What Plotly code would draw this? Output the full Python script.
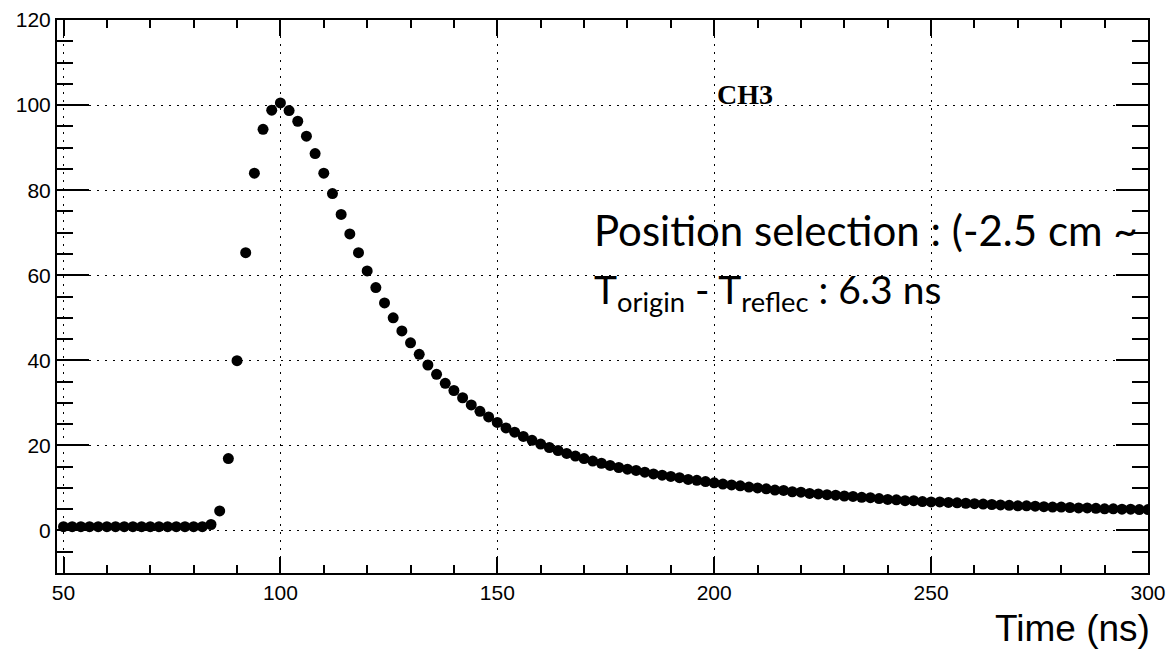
import plotly.graph_objects as go

# Sample times (ns), 2 ns steps
time_ns = list(range(50, 302, 2))

# Amplitude
amplitude = [
    0.9, 0.9, 0.9, 0.9, 0.9, 0.9, 0.9, 0.9, 0.9, 0.9, 0.9, 0.9, 0.9, 0.9, 0.9, 0.9, 0.9,  # 50-82
    1.4, 4.6, 16.9, 39.9, 65.3, 84.0, 94.3, 98.8, 100.5, 98.7,                            # 84-102
    96.2, 92.7, 88.6, 84.0, 79.2, 74.3, 69.7, 65.3, 61.0, 57.1,                           # 104-122
    53.5, 50.0, 46.9, 44.1, 41.4, 38.9, 36.7, 34.6, 32.9, 31.2,                           # 124-142
    29.5, 28.0, 26.7, 25.4, 24.1, 23.1, 22.1, 21.2, 20.3, 19.5,                           # 144-162
    18.8, 18.1, 17.5, 16.9, 16.3, 15.8, 15.3, 14.8, 14.4, 14.1,                           # 164-182
    13.7, 13.3, 13.0, 12.7, 12.4, 12.0, 11.8, 11.5, 11.2,                                 # 184-200
    10.9, 10.7, 10.5, 10.2, 10.0, 9.8, 9.5, 9.4, 9.1, 9.0,                                # 202-220
    8.7, 8.6, 8.4, 8.3, 8.1, 8.0, 7.8, 7.7, 7.5, 7.3,                                     # 222-240
    7.2, 7.0, 7.0, 6.8, 6.7,                                                              # 242-250
    6.7, 6.6, 6.5, 6.4, 6.3, 6.2, 6.1, 6.0, 5.9, 5.8,                                     # 252-270
    5.8, 5.7, 5.6, 5.5, 5.5, 5.4, 5.3, 5.3, 5.2, 5.1,                                     # 272-290
    5.1, 5.0, 5.0, 4.9, 4.9,                                                              # 292-300
]

x_ticks = [50, 100, 150, 200, 250, 300]
y_ticks = [0, 20, 40, 60, 80, 100, 120]

channel_label = "CH3"
x_title = "Time (ns)"
note_line1 = "Position selection : (-2.5 cm ~"
note_line2 = "T<sub>origin</sub> - T<sub>reflec</sub> : 6.3 ns"

fig = go.Figure()
fig.add_trace(go.Scatter(
    x=time_ns, y=amplitude, mode="markers",
    marker=dict(symbol="circle", size=11, color="black", line=dict(width=0)),
    showlegend=False, cliponaxis=True,
))

tick_font = dict(family="Liberation Sans, Arial, sans-serif", size=21, color="black")
grid_dash = "2px,6px"

fig.update_xaxes(
    range=[48.5, 300], tickvals=x_ticks, ticktext=[str(v) for v in x_ticks],
    showline=True, linecolor="black", linewidth=2, mirror="ticks",
    ticks="inside", ticklen=16, tickwidth=1.5, tickcolor="black",
    minor=dict(dtick=10, tick0=50, ticks="inside", ticklen=8, tickwidth=1.5, tickcolor="black", showgrid=False),
    showgrid=True, gridcolor="black", gridwidth=1, griddash=grid_dash,
    zeroline=False, tickfont=tick_font, automargin=False,
)
fig.update_yaxes(
    range=[-10, 120], tickvals=y_ticks, ticktext=[str(v) for v in y_ticks],
    showline=True, linecolor="black", linewidth=2, mirror="ticks",
    ticks="inside", ticklen=32, tickwidth=1.5, tickcolor="black",
    minor=dict(dtick=5, tick0=0, ticks="inside", ticklen=16, tickwidth=1.5, tickcolor="black", showgrid=False),
    showgrid=True, gridcolor="black", gridwidth=1, griddash=grid_dash,
    zeroline=False, tickfont=tick_font, automargin=False,
)

fig.add_annotation(
    text=x_title, xref="paper", yref="paper", x=1.004, y=-0.0995,
    xanchor="right", yanchor="middle", showarrow=False,
    font=dict(family="Liberation Sans, Arial, sans-serif", size=37, color="black"),
)
fig.add_annotation(
    text="<b>" + channel_label + "</b>", xref="paper", yref="paper", x=0.6306, y=0.865,
    xanchor="center", yanchor="middle", showarrow=False,
    font=dict(family="Liberation Serif, Times New Roman, serif", size=28, color="black"),
)
fig.add_annotation(
    text=note_line1, xref="paper", yref="paper", x=0.490, y=0.621,
    xanchor="left", yanchor="middle", showarrow=False,
    font=dict(family="Lato, sans-serif", size=42, color="black"),
)
fig.add_annotation(
    text=note_line2, xref="paper", yref="paper", x=0.490, y=0.509,
    xanchor="left", yanchor="middle", showarrow=False,
    font=dict(family="Lato, sans-serif", size=39, color="black"),
)

fig.update_layout(
    width=1166, height=659,
    margin=dict(l=57, r=18, t=20, b=86),
    paper_bgcolor="white", plot_bgcolor="white",
)

fig.write_html("out.html")
